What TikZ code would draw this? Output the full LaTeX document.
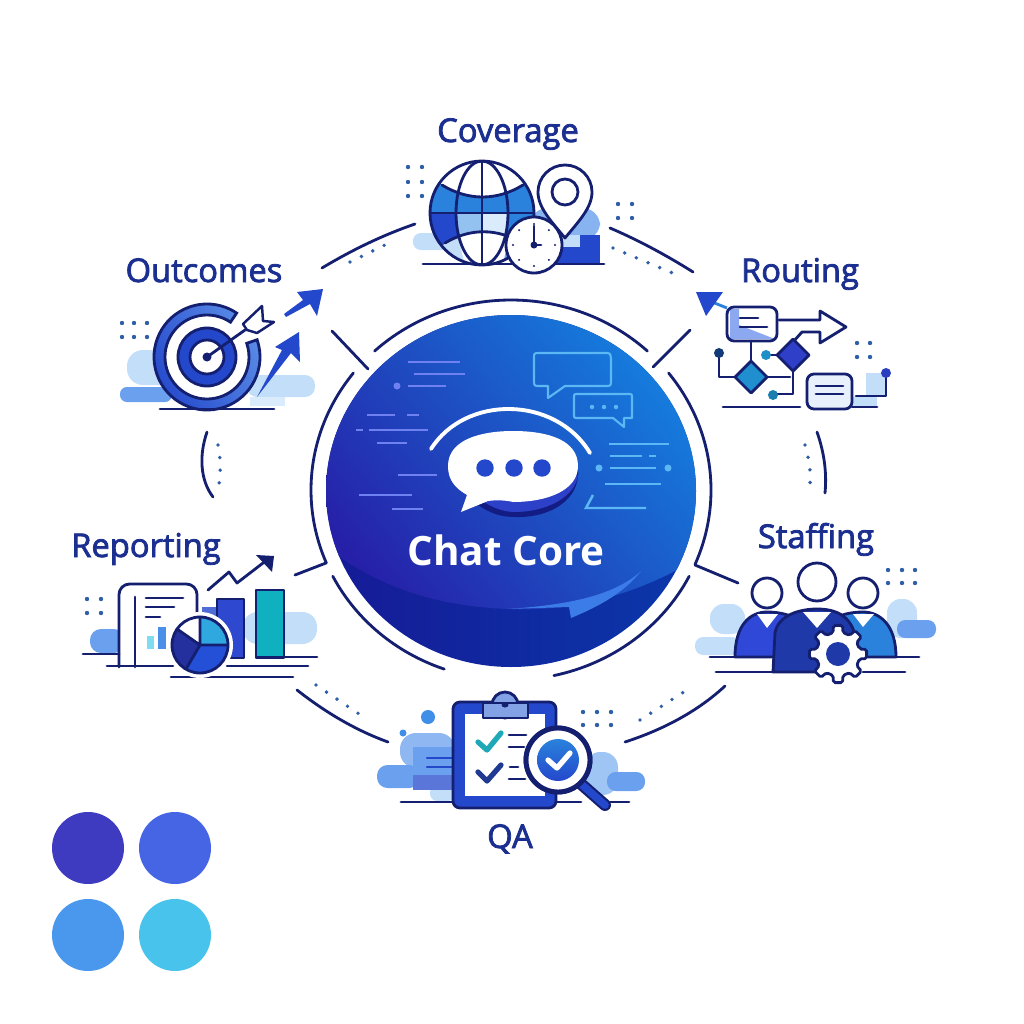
\documentclass[tikz,border=0pt]{standalone}
\usepackage{fontspec}
\setmainfont{Open Sans}
\newfontfamily\labelfont[FakeBold=2.4]{Open Sans}
\usetikzlibrary{calc}
\definecolor{navy}{HTML}{141F70}
\definecolor{labelblue}{HTML}{1B2F90}
\definecolor{royal}{HTML}{2448CC}
\definecolor{sky}{HTML}{2A82DC}
\definecolor{pale}{HTML}{C2DEF8}
\definecolor{soft}{HTML}{6AA0EE}
\definecolor{dotblue}{HTML}{2F5FA8}
\definecolor{discline}{HTML}{6F80F0}
\definecolor{discsky}{HTML}{5CB8F5}
\tikzset{
  ink/.style={draw=navy,line width=.8pt,line cap=round,line join=round},
  title/.style={text=labelblue,font=\labelfont\fontsize{9.3}{11}\selectfont,inner sep=0pt,anchor=base},
  dotarc/.style={draw=dotblue,line width=1.1pt,line cap=round,dash pattern=on 0pt off 3.6pt}
}
\newcommand{\dotgrid}[2]{
  \foreach \x in {#1}{
    \foreach \y in {#2}{
      \fill[dotblue] (\x,\y) circle (2.2);% one dot
    }
  }
}
\newcommand{\pill}[5]{
  \pgfmathsetmacro{\pillr}{min(#4-#2,#5-#3)*0.13}
  \fill[#1,rounded corners=\pillr pt] (#2,#3) rectangle (#4,#5);
}
\newcommand{\ringarc}[2]{
  \draw[ink] (511,490) ++(#1:200 and 190) arc[start angle=#1,end angle=#2,x radius=200,y radius=190];
}
\begin{document}
\begin{tikzpicture}[x=0.01cm,y=-0.01cm]
  \useasboundingbox (0,0) rectangle (1024,1024);
  \fill[white] (0,0) rectangle (1024,1024);

  % palette
  \fill[fill={rgb,255:red,63;green,59;blue,192}] (88,848) circle (36);
  \fill[fill={rgb,255:red,69;green,101;blue,229}] (175,848) circle (36);
  \fill[fill={rgb,255:red,74;green,151;blue,238}] (88,935) circle (36);
  \fill[fill={rgb,255:red,71;green,195;blue,236}] (175,935) circle (36);

  % outer ring
  \draw[ink] (322,268) .. controls (352,250) and (383,235) .. (415,224);
  \draw[ink] (610,228) .. controls (638,240) and (666,255) .. (693,272);
  \draw[ink] (207,432) .. controls (199,455) and (200,480) .. (213,497);
  \draw[ink] (817,432) .. controls (824,452) and (827,472) .. (825,493);
  \draw[ink] (297,690) .. controls (325,712) and (355,730) .. (388,742);
  \draw[ink] (625,742) .. controls (662,730) and (697,712) .. (725,686);
  \draw[dotarc] (350,262) -- (395,240);
  \draw[dotarc] (613,248) -- (675,274);
  \draw[dotarc] (218,445) .. controls (221,460) and (221,475) .. (218,490);
  \draw[dotarc] (805,445) .. controls (809,458) and (811,472) .. (810,485);
  \draw[dotarc] (316,685) -- (365,718);
  \draw[dotarc] (640,720) -- (690,688);

  % inner ring
  \ringarc{-133}{-47}
  \ringarc{218}{157.4}
  \ringarc{153}{109.5}
  \ringarc{77.6}{27}
  \ringarc{-38}{23}
  \draw[ink] (332,331) -- (368,369);
  \draw[ink] (690,330) -- (653,367);
  \draw[ink] (326,563) -- (295,575);
  \draw[ink] (695,565) -- (738,583);

  % disc
  \shade[left color={rgb,255:red,22;green,26;blue,150},right color={rgb,255:red,10;green,56;blue,170}]
    (511,491) ellipse (185 and 176);
  \begin{scope}
    \clip (511,491) ellipse (185 and 176);
    \shade[left color={rgb,255:red,38;green,32;blue,168},middle color={rgb,255:red,30;green,66;blue,204},
           right color={rgb,255:red,20;green,130;blue,224},shading angle=130]
      (300,300) -- (720,300) -- (720,540) -- (677,570) .. controls (620,600) and (560,612) .. (507,609)
      .. controls (440,606) and (390,590) .. (344,560) -- (300,530) -- cycle;
    \fill[fill={rgb,255:red,60;green,124;blue,232}] (507,609) .. controls (570,605) and (615,595) .. (641,571)
      .. controls (625,592) and (600,606) .. (571,618) -- (569,607) -- cycle;
  \end{scope}

  % lines on the disc
  \foreach \xa/\ya/\xb in {408/362/460,414/374/465,408/386/446,367/415/395,407/415/419,356/430/363,
      369/430/428,377/443/407,398/475/437,359/495/412,392/509/423}{
    \draw[discline,line width=.7pt] (\xa,\ya) -- (\xb,\ya);
  }
  \fill[discline] (397,386) circle (3.5);
  \foreach \xa/\ya/\xb in {609/444/669,610/456/642,649/456/656,610/468/656,605/484/661}{
    \draw[discsky,line width=.7pt] (\xa,\ya) -- (\xb,\ya);
  }
  \fill[discsky] (599,468) circle (3.5) (668,468) circle (3.5);
  \draw[discsky,line width=.7pt] (593,495) -- (586,508) -- (646,508);

  % small bubbles
  \draw[discsky,line width=.6pt,line join=round] (540,353) -- (605,353) .. controls (610,353) .. (611,358)
    -- (611,380) .. controls (611,386) .. (605,386) -- (565,386) -- (548,398) -- (548,386) -- (540,386)
    .. controls (534,386) .. (534,380) -- (534,358) .. controls (534,353) .. (540,353) -- cycle;
  \draw[discsky,line width=.6pt,line join=round] (578,394) -- (628,394) .. controls (632,394) .. (632,398)
    -- (632,418) -- (624,418) -- (624,427) -- (613,418) -- (578,418) .. controls (574,418) .. (574,414)
    -- (574,398) .. controls (574,394) .. (578,394) -- cycle;
  \foreach \x in {592,604,616}{
    \fill[discsky] (\x,407) circle (2.2);
  }

  % main bubble
  \draw[white,line width=1.1pt,line cap=round] (431,449) .. controls (465,395) and (555,395) .. (590,453);
  \fill[fill={rgb,255:red,18;green,28;blue,130}] (578,470) .. controls (580,500) and (550,518) .. (515,517)
    .. controls (500,517) and (490,513) .. (478,505) -- cycle;
  \fill[fill={rgb,255:red,44;green,64;blue,200}] (578,475) .. controls (575,498) and (545,512) .. (515,512)
    .. controls (505,512) and (495,509) .. (484,502) -- cycle;
  \fill[white] (448,466) .. controls (448,440) and (480,431) .. (513,431) .. controls (548,431) and (578,440) .. (578,466)
    .. controls (578,490) and (548,502) .. (513,502) .. controls (505,500) and (495,500) .. (488,501)
    -- (461,512) -- (467,495) .. controls (455,488) and (448,480) .. (448,466) -- cycle;
  \foreach \x in {485,514,542}{
    \fill[royal] (\x,468) circle (8.7);
  }
  \node[text=white,font=\bfseries\fontsize{11.5}{13}\selectfont,inner sep=0pt,anchor=base] (core) at (506,565) {Chat Core};

  % labels
  \node[title] (coverage) at (508,142) {Coverage};
  \node[title] (outcomes) at (204,282) {Outcomes};
  \node[title] (routing) at (800,282) {Routing};
  \node[title] (reporting) at (146,557) {Reporting};
  \node[title] (staffing) at (816,548) {Staffing};
  \node[title] (qa) at (510,848) {QA};

  % coverage
  \pill{pale}{413}{233}{450}{250}
  \fill[fill=soft!80!white,rounded corners=5pt] (530,208) -- (600,208) -- (600,240) -- (530,240) -- cycle;
  \fill[royal] (530,235) rectangle (600,264);
  \fill[pale] (555,235) rectangle (580,247);
  \dotgrid{408,422}{167,182,196}
  \dotgrid{618,632}{204,218}
  \begin{scope}
    \clip (482,213) circle (52);
    \fill[white] (482,213) circle (52);
    \fill[sky] (425,175) -- (442,185) .. controls (468,201) and (497,201) .. (523,185) -- (540,175) -- (540,213) -- (425,213) -- cycle;
    \fill[royal] (425,213) rectangle (457,250);
    \fill[pale!70!sky] (457,213) rectangle (482,236);
    \fill[pale!60!white] (482,213) rectangle (507,236);
    \fill[sky] (507,213) rectangle (540,250);
    \fill[white] (445,243) .. controls (470,228) and (497,228) .. (522,243) -- (540,270) -- (425,270) -- cycle;
    \fill[pale] (425,270) -- (445,243) -- (458,236) -- (466,270) -- cycle;
    \fill[soft] (502,270) -- (506,250) -- (525,270) -- cycle;
    \draw[ink] (442,185) .. controls (468,201) and (497,201) .. (523,185);
    \draw[ink] (445,243) .. controls (470,228) and (497,228) .. (522,243);
    \draw[ink] (425,213) -- (540,213);
    \draw[ink] (482,160) -- (482,265);
    \draw[ink] (482,213) ellipse (26 and 52);
  \end{scope}
  \draw[ink] (482,213) circle (52);
  \draw[ink] (423,264) -- (604,264);
  \draw[ink,fill=white] (565,238) .. controls (552,222) and (538,208) .. (538,192)
    arc[start angle=180,end angle=360,radius=27] .. controls (592,208) and (578,222) .. (565,238) -- cycle;
  \draw[ink] (565,192) circle (13);
  \draw[ink,fill=white] (534,245) circle (28);
  \foreach \a in {0,45,...,315}{
    \fill[navy] (534,245) ++(\a:21) circle (1.1);
  }
  \draw[ink] (534,226) -- (534,245) -- (541,245);
  \fill[navy] (534,245) circle (3.5);

  % outcomes
  \pill{pale}{127}{350}{190}{385}
  \pill{soft}{120}{387}{172}{402}
  \pill{pale}{247}{375}{315}{397}
  \fill[pale!60!white] (250,397) rectangle (285,406);
  \dotgrid{122,134,147}{323,337}
  \fill[white] (207,357) circle (44);
  \shade[left color=royal,right color=soft!80!royal,shading angle=120,draw=navy,line width=.8pt]
    (207,357) ++(-19:53) arc[start angle=-19,end angle=304,radius=53]
    -- ++(124:11) arc[start angle=304,end angle=-19,radius=42] -- cycle;
  \fill[royal,draw=navy,line width=.8pt] (207,357) circle (29);
  \draw[ink,fill=white] (207,357) circle (17);
  \fill[navy] (207,357) circle (4.5);
  \draw[ink] (207,357) -- (245,330);
  \draw[ink,fill=white,line width=.7pt] (243,324) -- (262,306) -- (263,321) -- (274,322) -- (257,333) -- (247,330) -- cycle;
  \fill[royal] (284,314) -- (303,300) -- (297,292) -- (323,289) -- (317,316) -- (310,304) -- (286,317) -- cycle;
  \fill[royal] (257,397) -- (282,350) -- (275,347) -- (299,332) -- (300,362) -- (291,353) -- cycle;
  \draw[ink] (160,409) -- (274,409);

  % routing
  \draw[draw=sky,line width=.8pt] (707,300) -- (727,308);
  \fill[royal] (696,292) -- (723,292) -- (706,316) -- cycle;
  \fill[fill=white] (727,307) rectangle (777,341);
  \fill[fill={rgb,255:red,140;green,168;blue,240}] (730,309) -- (739,309) -- (739,325) -- (775,339) -- (730,339) -- cycle;
  \draw[ink,rounded corners=2pt] (727,307) rectangle (777,341);
  \draw[ink] (740,318) -- (758,318) (740,327) -- (767,327);
  \draw[ink] (779,320) -- (820,320) -- (820,311) -- (846,327) -- (820,343) -- (820,332) -- (802,332) -- (793,342);
  \draw[ink] (751,341) -- (751,360);
  \draw[ink] (719,353) -- (719,377) -- (735,377);
  \draw[ink] (767,377) -- (790,377);
  \draw[ink] (793,371) -- (793,394) -- (773,394);
  \draw[ink] (766,355) -- (778,355);
  \draw[ink,fill={rgb,255:red,47;green,63;blue,200}] (793,339) -- (809,355) -- (793,371) -- (777,355) -- cycle;
  \draw[ink,fill={rgb,255:red,31;green,143;blue,208}] (751,361) -- (767,377) -- (751,393) -- (735,377) -- cycle;
  \fill[fill={rgb,255:red,18;green,58;blue,120}] (719,353) circle (5);
  \fill[fill={rgb,255:red,31;green,143;blue,200}] (766,355) circle (5);
  \fill[fill={rgb,255:red,26;green,127;blue,176}] (773,395) circle (5);
  \fill[pale] (866,373) rectangle (885,397);
  \fill[pale] (853,397) rectangle (877,407);
  \draw[ink,fill={rgb,255:red,232;green,240;blue,251},rounded corners=2pt] (807,374) rectangle (852,409);
  \draw[ink] (816,386) -- (843,386) (816,394) -- (843,394);
  \draw[ink] (723,407) -- (800,407) (852,407) -- (877,407);
  \draw[ink] (856,396) -- (886,396) -- (886,373);
  \fill[fill={rgb,255:red,42;green,63;blue,192}] (886,373) circle (5);
  \dotgrid{857,870}{343,357}

  % staffing
  \pill{pale}{710}{604}{745}{634}
  \pill{pale}{695}{637}{740}{655}
  \pill{pale}{887}{599}{917}{638}
  \pill{soft}{897}{620}{936}{638}
  \dotgrid{888,902,915}{570,583}
  \draw[ink,fill=white] (767,593) circle (15);
  \draw[ink,fill=white] (863,593) circle (15);
  \draw[ink,fill=white] (817,582) circle (19);
  \draw[ink,fill={rgb,255:red,47;green,72;blue,216}] (735,657) .. controls (735,625) and (750,612) .. (767,612)
    .. controls (780,612) and (790,615) .. (800,620) -- (800,657) -- cycle;
  \fill[white] (757,614) -- (778,614) -- (767,628) -- cycle;
  \draw[ink,fill=sky] (896,657) .. controls (896,625) and (880,612) .. (863,612)
    .. controls (850,612) and (840,615) .. (830,620) -- (830,657) -- cycle;
  \fill[white] (853,614) -- (874,614) -- (863,627) -- cycle;
  \draw[ink,fill={rgb,255:red,31;green,58;blue,168}] (773,672) -- (775,633) .. controls (778,615) and (800,609) .. (817,609)
    .. controls (835,609) and (850,615) .. (855,635) -- (855,672) -- cycle;
  \fill[white] (803,612) -- (831,612) -- (817,628) -- cycle;
  \draw[ink] (710,657) -- (735,657) (896,657) -- (919,657) (716,672) -- (813,672) (863,672) -- (905,672);
  \begin{scope}[shift={(838,654)}]
    \draw[ink,fill=white,rounded corners=.5pt] (-13:22) \foreach \a in {0,45,...,315}{
      -- ({\a-13}:22) -- ({\a-9}:29) -- ({\a+9}:29) -- ({\a+13}:22) } -- cycle;
    \fill[fill={rgb,255:red,31;green,58;blue,168}] (0,0) circle (12);
  \end{scope}

  % qa
  \pill{soft!75!white}{400}{733}{455}{768}
  \pill{soft}{377}{765}{420}{788}
  \pill{pale}{430}{785}{455}{801}
  \fill[fill=soft] (413,747) rectangle (455,790);
  \fill[fill=royal!75!white] (413,775) rectangle (455,790);
  \draw[ink,line width=.7pt,draw=royal] (427,758) -- (452,758) (427,767) -- (452,767);
  \pill{pale!60!soft}{585}{752}{618}{795}
  \pill{soft}{607}{772}{645}{791}
  \fill[fill={rgb,255:red,63;green,143;blue,232}] (428,717) circle (7) (403,733) circle (3.5);
  \dotgrid{583,597,611}{712,725}
  \draw[ink] (401,802) -- (453,802) (556,802) -- (581,802) (610,802) -- (629,802);
  \draw[ink,fill=royal,rounded corners=2pt] (453,702) rectangle (556,808);
  \draw[draw=none,fill=white] (465,714) rectangle (545,796);
  \draw[ink,fill=pale!60!royal] (505,705) circle (13);
  \draw[ink,fill=pale!60!royal] (483,703) rectangle (528,718);
  \fill[pale!60!royal] (495,704) rectangle (515,710);
  \fill[navy] (505,705) ellipse (3.5 and 2.5);
  \draw[draw={rgb,255:red,31;green,168;blue,184},line width=1.5pt,line cap=round,line join=round] (478,742) -- (487,750) -- (501,733);
  \draw[draw={rgb,255:red,31;green,58;blue,144},line width=1.5pt,line cap=round,line join=round] (478,772) -- (487,781) -- (501,765);
  \draw[ink] (509,735) -- (526,735) (509,747) -- (524,747) (510,767) -- (518,767) (509,779) -- (525,779);
  \draw[draw=navy,line width=3.4pt,line cap=round] (580,783) -- (605,805);
  \draw[draw=royal,line width=2.2pt,line cap=round] (580,783) -- (605,805);
  \draw[ink,fill=white] (558,760) circle (33);
  \draw[draw=navy,line width=1.4pt] (558,760) circle (32);
  \shade[top color=sky,bottom color=royal] (558,760) circle (21);
  \draw[white,line width=1.5pt,line cap=round,line join=round] (548,760) -- (557,768) -- (570,753);

  % reporting
  \pill{pale}{243}{612}{317}{644}
  \pill{soft}{90}{629}{125}{653}
  \fill[royal!80!white] (202,607) rectangle (220,620);
  \draw[ink,fill=white,rounded corners=3pt] (119,667) -- (119,584) -- (197,584) -- (197,667);
  \draw[ink] (135,597) -- (135,667);
  \draw[ink] (146,598) -- (183,598) (146,607) -- (174,607) (146,617) -- (160,617);
  \fill[fill={rgb,255:red,128;green,220;blue,240}] (147,636) rectangle (154,649);
  \fill[fill={rgb,255:red,74;green,144;blue,232}] (158,627) rectangle (166,649);
  \draw[ink,fill={rgb,255:red,47;green,72;blue,208}] (217,658) rectangle (244,599);
  \draw[ink,fill={rgb,255:red,15;green,176;blue,192}] (256,658) rectangle (284,590);
  \draw[ink] (83,654) -- (119,654) (107,666) -- (173,666) (227,666) -- (308,666) (257,657) -- (317,657) (171,677) -- (293,677);
  \fill[white] (200,645) circle (33);
  \fill[fill={rgb,255:red,47;green,168;blue,224}] (200,645) -- (200,617) arc[start angle=270,end angle=360,radius=28] -- cycle;
  \fill[fill={rgb,255:red,36;green,80;blue,216}] (200,645) -- (228,645) arc[start angle=0,end angle=120,radius=28] -- cycle;
  \fill[fill={rgb,255:red,36;green,48;blue,158}] (200,645) -- (186,669) arc[start angle=120,end angle=215,radius=28] -- cycle;
  \draw[ink] (200,617) -- (200,645) -- (228,645) (200,645) -- (186,669) (200,645) -- (177,629);
  \draw[ink] (200,645) circle (28);
  \draw[ink] (208,590) -- (229,572) -- (237,583) -- (263,563);
  \fill[navy] (256,555) -- (274,556) -- (272,572) -- cycle;
  \dotgrid{87,101}{599,613}
\end{tikzpicture}
\end{document}
